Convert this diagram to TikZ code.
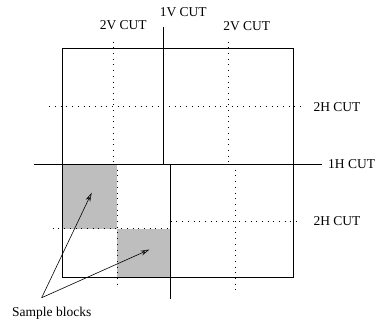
\documentclass[tikz,border=0pt]{standalone}
\usepackage{fontspec}
\setmainfont{Liberation Serif}
\usetikzlibrary{arrows.meta, positioning}
\definecolor{clrSample}{HTML}{BEBEBE}

\begin{document}
\begin{tikzpicture}[x=1pt, y=-1pt,
    cutline/.style={line width=0.8pt, black},
    dotcut/.style={line width=0.8pt, black, dash pattern=on 0.8pt off 4.9pt},
    sample/.style={fill=clrSample, draw=none},
    arrow/.style={-{Stealth[open, length=9pt, width=5pt, inset=3pt]}, line width=0.6pt},
    lbl/.style={font=\fontsize{13.5}{16}\selectfont, inner sep=0pt},
]
\useasboundingbox (0,0) rectangle (377,326);

% === Sample blocks ===
\fill[sample] (62.7,164) rectangle (117,228.5);
\fill[sample] (117,228.5) rectangle (170.7,277.7);

% === Outer block and first cuts ===
\draw[cutline] (62.7,48.3) rectangle (293.3,277.7);
\draw[cutline] (163.3,26.7) -- (163.3,164);
\draw[cutline] (34.3,164) -- (321.7,164);
\draw[cutline] (170.7,164) -- (170.7,299.3);

% === Second cuts, upper half ===
\draw[dotcut] (113.3,41.7) -- (113.3,164);
\draw[dotcut] (228.3,41.7) -- (228.3,164);
\draw[dotcut] (49.3,106.7) -- (305,106.7);

% === Second cuts, lower half ===
\draw[dotcut] (117,164) -- (117,288);
\draw[dotcut] (235.7,164) -- (235.7,293.3);
\draw[dotcut] (52.7,228.5) -- (170.7,228.5);
\draw[dotcut] (170.7,221) -- (300,221);

% === Labels ===
\node[lbl] (v1) at (183.3,12.3) {1V CUT};
\node[lbl] (v2l) at (123.3,25) {2V CUT};
\node[lbl] (v2r) at (246.7,26.2) {2V CUT};
\node[lbl, anchor=west] (h2t) at (313.3,106.7) {2H CUT};
\node[lbl, anchor=west] (h1) at (328,164) {1H CUT};
\node[lbl, anchor=west] (h2b) at (313.3,221) {2H CUT};
\node[lbl] (blocks) at (51.7,313) {Sample blocks};

% === Arrows to the sample blocks ===
\coordinate (tail) at (41.7,297.7);
\coordinate (tipA) at (91.7,192.7);
\coordinate (tipB) at (149.5,249.5);
\draw[arrow] (tail) -- (tipA);
\draw[arrow] (tail) -- (tipB);

\end{tikzpicture}
\end{document}
